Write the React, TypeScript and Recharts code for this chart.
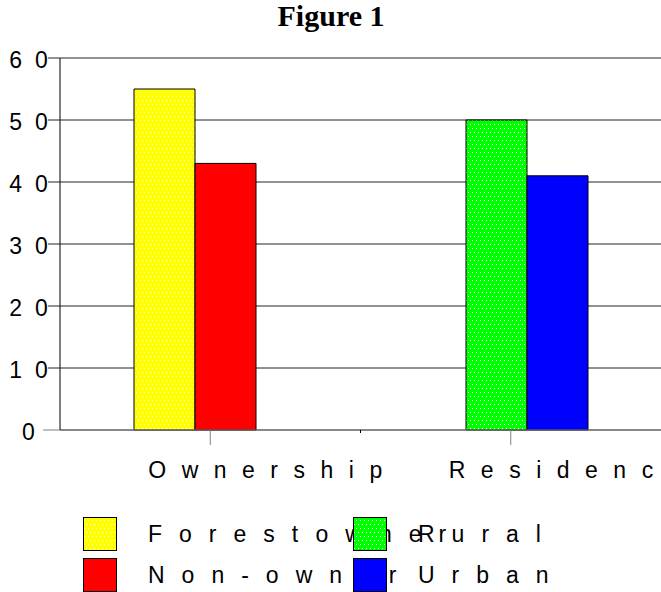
import { BarChart, Bar, XAxis, YAxis, CartesianGrid, Cell } from 'recharts';

// two bars per group: the first slot holds Forest owner / Rural, the second Non-owner / Urban
const groups = ['Ownership', 'Residence'];
const firstValues = [55, 50];
const secondValues = [43, 41];
const firstNames = ['Forest owner', 'Rural'];
const secondNames = ['Non-owner', 'Urban'];
const firstFills = ['url(#dotYellow)', 'url(#dotGreen)'];
const secondFills = ['#ff0000', '#0000ff'];
const yTicks = [0, 10, 20, 30, 40, 50, 60];

const data = groups.map((g, i) => ({
  group: g,
  first: firstValues[i],
  second: secondValues[i],
}));

const SANS = '"Liberation Sans", Arial, sans-serif';
const AXIS_X = 60;

function DotPattern({ id, color }: { id: string; color: string }) {
  return (
    <pattern id={id} width={4} height={8} patternUnits="userSpaceOnUse">
      <rect width={4} height={8} fill={color} />
      <rect x={0} y={0} width={1} height={1} fill="#ffffff" />
      <rect x={2} y={4} width={1} height={1} fill="#ffffff" />
    </pattern>
  );
}

function YTick({ y, payload }: any) {
  const isZero = payload.value === 0;
  return (
    <g>
      <line
        x1={isZero ? 43 : 48}
        x2={AXIS_X}
        y1={y}
        y2={y}
        stroke={isZero ? '#808080' : '#222'}
      />
      <text
        x={28}
        y={y + 10}
        dx={7}
        textAnchor="middle"
        fontFamily={SANS}
        fontSize={23}
        letterSpacing={13}
        fill="#000"
      >
        {payload.value}
      </text>
    </g>
  );
}

function GroupTick({ x, y, payload, index }: any) {
  const half = payload.offset ?? 150;
  return (
    <g>
      {index === 0 && (
        <line x1={x + half} x2={x + half} y1={y - 15} y2={y - 12} stroke="#000" />
      )}
      <text
        x={x - 62}
        y={y + 33}
        textAnchor="start"
        fontFamily={SANS}
        fontSize={23}
        letterSpacing={15.5}
        fill="#000"
      >
        {payload.value}
      </text>
    </g>
  );
}

const legendColumns = groups.map((_, i) => [
  { name: firstNames[i], fill: firstFills[i] },
  { name: secondNames[i], fill: secondFills[i] },
]);

function Legend() {
  const colX = [83, 353];
  const rowY = [517, 558];
  return (
    <svg
      width={661}
      height={592}
      style={{ position: 'absolute', left: 0, top: 0, pointerEvents: 'none' }}
    >
      <defs>
        <DotPattern id="legYellow" color="#ffff00" />
        <DotPattern id="legGreen" color="#00ff00" />
      </defs>
      <text
        x={331}
        y={26}
        textAnchor="middle"
        fontFamily='"Liberation Serif", "Times New Roman", serif'
        fontWeight="bold"
        fontSize={30}
        fill="#000"
      >
        Figure 1
      </text>
      {legendColumns.map((col, c) =>
        col.map((item, r) => (
          <g key={`${c}-${r}`}>
            <rect
              x={colX[c] + 0.5}
              y={rowY[r] + 0.5}
              width={33}
              height={33}
              fill={item.fill.replace('#dotYellow', '#legYellow').replace('#dotGreen', '#legGreen')}
              stroke="#000"
            />
            <text
              x={colX[c] + 65}
              y={rowY[r] + 25}
              fontFamily={SANS}
              fontSize={23}
              letterSpacing={17}
              wordSpacing={-23}
              fill="#000"
            >
              {item.name}
            </text>
          </g>
        ))
      )}
    </svg>
  );
}

export default function App() {
  return (
    <div
      style={{
        position: 'absolute',
        left: 0,
        top: 0,
        width: 661,
        height: 592,
        background: '#fff',
      }}
    >
      <BarChart
        width={661}
        height={592}
        data={data}
        margin={{ top: 58, right: 0, bottom: 112, left: 0 }}
        barGap={0}
        barSize={61}
      >
        <defs>
          <DotPattern id="dotYellow" color="#ffff00" />
          <DotPattern id="dotGreen" color="#00ff00" />
        </defs>
        <CartesianGrid xAxisId="groups" vertical={false} stroke="#222" />
        <XAxis
          xAxisId="bars"
          dataKey="group"
          hide
          height={0}
          padding={{ left: -31, right: -32 }}
        />
        <XAxis
          xAxisId="groups"
          dataKey="group"
          height={50}
          axisLine={{ stroke: '#808080' }}
          tickLine={{ stroke: '#808080' }}
          tickSize={15}
          tickMargin={0}
          tick={<GroupTick />}
          interval={0}
        />
        <YAxis
          width={AXIS_X}
          domain={[0, 60]}
          ticks={yTicks}
          axisLine={{ stroke: '#000' }}
          tickLine={false}
          tick={<YTick />}
          interval={0}
        />
        <Bar xAxisId="bars" dataKey="first" stroke="#000" isAnimationActive={false}>
          {firstFills.map((f, i) => (
            <Cell key={i} fill={f} />
          ))}
        </Bar>
        <Bar xAxisId="bars" dataKey="second" stroke="#000" isAnimationActive={false}>
          {secondFills.map((f, i) => (
            <Cell key={i} fill={f} />
          ))}
        </Bar>
      </BarChart>
      <Legend />
    </div>
  );
}
